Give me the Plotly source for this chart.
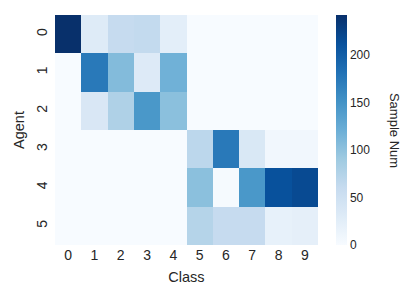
import plotly.graph_objects as go

agents = ["0", "1", "2", "3", "4", "5"]
classes = ["0", "1", "2", "3", "4", "5", "6", "7", "8", "9"]
values = [
    [242, 30, 60, 63, 24, 0, 0, 0, 0, 0],
    [0, 174, 107, 32, 118, 0, 0, 0, 0, 0],
    [0, 37, 78, 145, 102, 0, 0, 0, 0, 0],
    [0, 0, 0, 0, 0, 68, 174, 36, 7, 7],
    [0, 0, 0, 0, 0, 102, 2, 145, 212, 218],
    [0, 0, 0, 0, 0, 73, 60, 60, 19, 22],
]
cbar_ticks = [0, 50, 100, 150, 200]

blues = [
    [0.0, "#f7fbff"], [0.125, "#deebf7"], [0.25, "#c6dbef"], [0.375, "#9ecae1"],
    [0.5, "#6baed6"], [0.625, "#4292c6"], [0.75, "#2171b5"], [0.875, "#08519c"],
    [1.0, "#08306b"],
]
FONT = "Liberation Sans, Arial, sans-serif"

fig = go.Figure(go.Heatmap(
    z=values, x=classes, y=agents, colorscale=blues, zmin=0, zmax=242,
    colorbar=dict(
        x=1.068, xanchor="left", y=0.5, yanchor="middle", len=1.0, lenmode="fraction",
        thickness=11, outlinewidth=0, tickvals=cbar_ticks, ticks="", xpad=0, ypad=0,
        tickfont=dict(size=12, color="#262626", family=FONT),
    ),
))

fig.add_annotation(
    text="Sample Num", textangle=90, xref="paper", yref="paper",
    x=1.293, y=0.5, xanchor="center", yanchor="middle", showarrow=False,
    font=dict(size=13, color="#262626", family=FONT),
)

fig.update_layout(
    width=417, height=300,
    margin=dict(l=55, r=99, t=15, b=55, autoexpand=False),
    paper_bgcolor="white", plot_bgcolor="white",
    font=dict(family=FONT, color="#262626"),
    xaxis=dict(title=dict(text="Class", font=dict(size=14.5), standoff=9),
               tickfont=dict(size=14), showgrid=False, zeroline=False, ticks="",
               automargin=False),
    yaxis=dict(title=dict(text="Agent", font=dict(size=14.5), standoff=6),
               tickfont=dict(size=14), tickangle=-90, autorange="reversed",
               ticklabelstandoff=4,
               showgrid=False, zeroline=False, ticks="", automargin=False),
)

fig.write_html("out.html", post_script="document.body.style.margin='0';",
               config={"displayModeBar": False})
